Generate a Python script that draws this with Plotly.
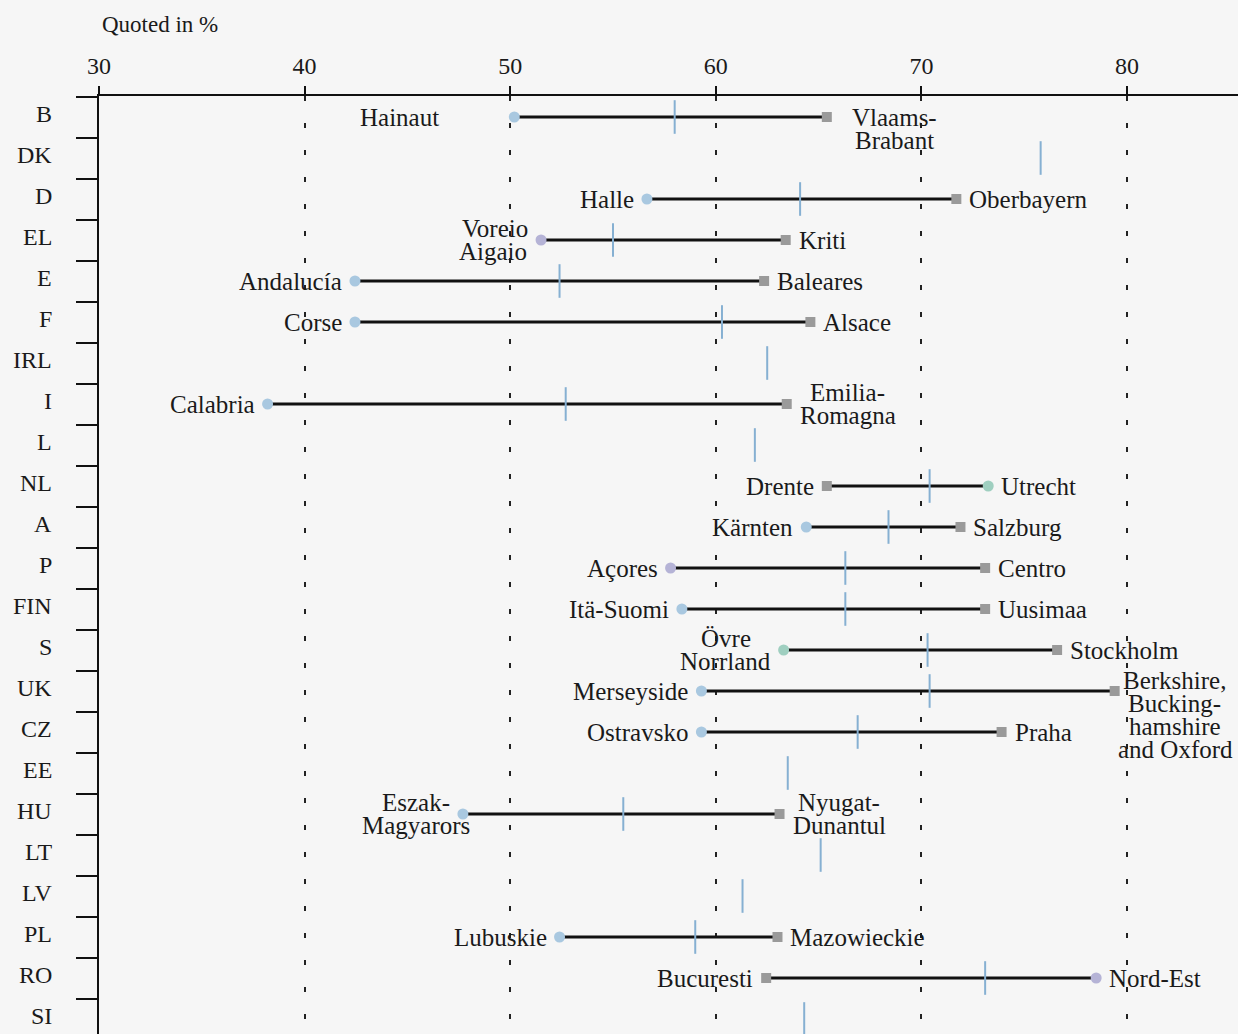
import plotly.graph_objects as go

# Datos (en %)
paises = ["B", "DK", "D", "EL", "E", "F", "IRL", "I", "L", "NL", "A", "P",
          "FIN", "S", "UK", "CZ", "EE", "HU", "LT", "LV", "PL", "RO", "SI"]

media_nacional = [58.0, 75.8, 64.1, 55.0, 52.4, 60.3, 62.5, 52.7, 61.9, 70.4, 68.4, 66.3,
                  66.3, 70.3, 70.4, 66.9, 63.5, 55.5, 65.1, 61.3, 59.0, 73.1, 64.3]

region_circulo = ["Hainaut", None, "Halle", "Voreio<br>Aigaio", "Andalucía", "Corse", None,
                  "Calabria", None, "Utrecht", "Kärnten", "Açores", "Itä-Suomi",
                  "Övre<br>Norrland", "Merseyside", "Ostravsko", None, "Eszak-<br>Magyarors",
                  None, None, "Lubuskie", "Nord-Est", None]
valor_circulo = [50.2, None, 56.65, 51.5, 42.45, 42.45, None, 38.2, None, 73.25, 64.4, 57.8,
                 58.35, 63.3, 59.3, 59.3, None, 47.7, None, None, 52.4, 78.5, None]

region_cuadro = ["Vlaams-<br>Brabant", None, "Oberbayern", "Kriti", "Baleares", "Alsace", None,
                 "Emilia-<br>Romagna", None, "Drente", "Salzburg", "Centro", "Uusimaa",
                 "Stockholm", "Berkshire,<br>Bucking-<br>hamshire<br>and Oxford", "Praha", None,
                 "Nyugat-<br>Dunantul", None, None, "Mazowieckie", "Bucuresti", None]
valor_cuadro = [65.4, None, 71.7, 63.4, 62.35, 64.6, None, 63.45, None, 65.4, 71.9, 73.1,
                73.1, 76.6, 79.4, 73.9, None, 63.1, None, None, 63.0, 62.45, None]

ticks_x = [30, 40, 50, 60, 70, 80]

# ---------------------------------------------------------
# Estilo
# ---------------------------------------------------------
FUENTE = "Liberation Serif"
TAM = 25
INTERLINEA = 23
fondo = "#f6f6f6"
color_circulo = {"Utrecht": "#9fcfc0", "Övre<br>Norrland": "#9fcfc0",
                 "Voreio<br>Aigaio": "#b5b3d6", "Açores": "#b5b3d6", "Nord-Est": "#b5b3d6"}
separacion = {"Hainaut": 73, "Vlaams-<br>Brabant": 23, "Eszak-<br>Magyarors": -9,
              "Berkshire,<br>Bucking-<br>hamshire<br>and Oxford": 1}
primera_linea = {"Vlaams-<br>Brabant": 0,
                 "Berkshire,<br>Bucking-<br>hamshire<br>and Oxford": -11}

# anchos aproximados de Times (por 1000 em) para centrar etiquetas de varias lineas
anchos = {}
for grupo, w in [("abcdeghknopquvxyz", 500), ("ilt", 278), ("fr", 333), ("s", 389),
                 ("m", 778), ("w", 722), ("ADGHKNOQUVXY", 722), ("BCR", 667),
                 ("ELTZ", 611), ("FPS", 556), ("M", 889), ("I", 333), ("-", 333), (", ", 250)]:
    for ch in grupo:
        anchos[ch] = w
for ch in "acez":
    anchos[ch] = 444


def ancho(texto):
    base = {"í": "i", "ä": "a", "ç": "c", "Ö": "O"}
    return sum(anchos.get(base.get(c, c), 500) for c in texto) * TAM / 1000


fig = go.Figure()

# lineas entre regiones
lx, ly = [], []
for i in range(len(paises)):
    if valor_circulo[i] is not None:
        lx += [valor_circulo[i], valor_cuadro[i], None]
        ly += [i, i, None]
fig.add_trace(go.Scatter(x=lx, y=ly, mode="lines", line=dict(color="#111111", width=3),
                         hoverinfo="skip"))

# media nacional
fig.add_trace(go.Scatter(x=media_nacional, y=list(range(len(paises))), mode="markers",
                         marker=dict(symbol="line-ns", size=24,
                                     line=dict(color="#86b0d2", width=2)),
                         hovertemplate="%{x}<extra></extra>"))

yc = [i for i in range(len(paises)) if valor_circulo[i] is not None]
fig.add_trace(go.Scatter(x=[valor_circulo[i] for i in yc], y=yc, mode="markers",
                         marker=dict(symbol="circle", size=11,
                                     color=[color_circulo.get(region_circulo[i], "#a9c8e0")
                                            for i in yc]),
                         hovertemplate="%{x}<extra></extra>"))
fig.add_trace(go.Scatter(x=[valor_cuadro[i] for i in yc], y=yc, mode="markers",
                         marker=dict(symbol="square", size=10, color="#9a9a9a"),
                         hovertemplate="%{x}<extra></extra>"))


def etiqueta(nombre, valor, fila, lado):
    lineas = nombre.split("<br>")
    w = [ancho(t) for t in lineas]
    bloque = max(w)
    gap = separacion.get(nombre, 11)
    y0 = primera_linea.get(nombre, -11.5 * (len(lineas) - 1))
    for k, t in enumerate(lineas):
        desp = gap + (bloque - w[k]) / 2
        fig.add_annotation(x=valor, y=fila, text=t, showarrow=False,
                           xanchor="left" if lado > 0 else "right",
                           xshift=desp * lado, yshift=-(y0 + INTERLINEA * k),
                           font=dict(family=FUENTE, size=TAM, color="#1a1a1a"))


for i in yc:
    a, b = (region_circulo[i], valor_circulo[i]), (region_cuadro[i], valor_cuadro[i])
    izq, der = (a, b) if a[1] < b[1] else (b, a)
    etiqueta(izq[0], izq[1], i, -1)
    etiqueta(der[0], der[1], i, 1)

# nombres de paises
for i, p in enumerate(paises):
    fig.add_annotation(x=-45 / 1139, xref="paper", y=i, yshift=3, text=p, showarrow=False,
                       xanchor="right", font=dict(family=FUENTE, size=24, color="#1a1a1a"))

fig.add_annotation(x=0.001, xref="paper", y=1 + 71 / 938, yref="paper", text="Quoted in %",
                   showarrow=False, xanchor="left", yanchor="middle",
                   font=dict(family=FUENTE, size=23, color="#1a1a1a"))

fig.update_layout(
    width=1238, height=1034,
    margin=dict(l=99, r=0, t=96, b=0),
    paper_bgcolor=fondo, plot_bgcolor=fondo,
    showlegend=False,
    font=dict(family=FUENTE, size=24, color="#1a1a1a"),
    xaxis=dict(side="top", range=[30, 30 + 1139 / 20.56], tickvals=ticks_x,
               ticks="outside", ticklen=8, tickwidth=2, tickcolor="#111111",
               showline=True, linecolor="#111111", linewidth=2,
               showgrid=True, gridcolor="#222222", gridwidth=2, griddash="5px,22px",
               zeroline=False, tickfont=dict(family=FUENTE, size=24),
               ticklabelstandoff=2),
    yaxis=dict(range=[917 / 41, -21 / 41], tickvals=[k - 0.5 for k in range(len(paises))],
               showticklabels=False, ticks="outside", ticklen=21, tickwidth=2,
               tickcolor="#111111", showline=True, linecolor="#111111", linewidth=2,
               showgrid=False, zeroline=False),
)

fig.write_html("out.html", config={"displayModeBar": False},
               post_script="document.body.style.margin='0';"
                           "document.body.style.background='#f6f6f6';"
                           "document.body.style.overflow='hidden';")
